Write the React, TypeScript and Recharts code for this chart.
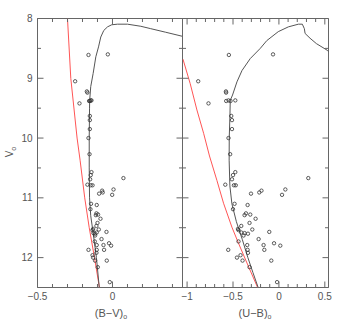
import React from 'react';
import { ComposedChart, Scatter, XAxis, YAxis } from 'recharts';

// stars: V0, (B-V)0, (U-B)0
const starV = [
  8.61, 8.6, 9.05, 9.22, 9.24, 9.42, 9.38, 9.37, 9.38, 9.37, 9.63, 9.7, 9.85, 10.0, 10.27,
  10.57, 10.62, 10.69, 10.79, 10.79, 10.78, 10.67, 10.86, 10.95, 10.93, 10.88, 10.91,
  11.1, 11.12, 11.19, 11.26, 11.28, 11.29, 11.35, 11.42, 11.47, 11.52, 11.54, 11.53,
  11.59, 11.6, 11.58, 11.57, 11.63, 11.69, 11.73, 11.76, 11.8, 11.79, 11.79, 11.87,
  11.87, 11.87, 11.92, 11.96, 12.0, 12.05, 12.05, 12.16, 12.41,
];
const starBV = [
  -0.16, -0.031, -0.249, -0.171, -0.167, -0.22, -0.156, -0.14, -0.15, -0.145, -0.151, -0.151, -0.151, -0.16, -0.153,
  -0.14, -0.145, -0.149, -0.145, -0.133, -0.167, 0.073, 0.007, -0.002, -0.089, -0.069, -0.065,
  -0.143, -0.105, -0.147, -0.107, -0.096, -0.111, -0.08, -0.1, -0.107, -0.129, -0.133, -0.091,
  -0.127, -0.116, -0.105, -0.04, -0.116, -0.073, -0.118, -0.023, -0.009, -0.06, -0.105, -0.16,
  -0.105, -0.056, -0.107, -0.133, -0.129, -0.116, -0.038, -0.098, -0.018,
];
const starUB = [
  -0.545, -0.064, -0.879, -0.577, -0.575, -0.767, -0.574, -0.549, -0.527, -0.475, -0.519, -0.511, -0.511, -0.549, -0.531,
  -0.475, -0.5, -0.511, -0.49, -0.47, -0.584, 0.32, 0.07, 0.034, -0.304, -0.19, -0.214,
  -0.483, -0.341, -0.5, -0.359, -0.312, -0.374, -0.254, -0.32, -0.41, -0.446, -0.44, -0.29,
  -0.374, -0.337, -0.41, -0.105, -0.385, -0.221, -0.44, -0.053, 0.015, -0.167, -0.345, -0.552,
  -0.341, -0.159, -0.337, -0.418, -0.457, -0.396, -0.083, -0.32, -0.02,
];

// isochrone (black)
const isoBV = [-0.088, -0.107, -0.128, -0.145, -0.153, -0.155, -0.155, -0.153, -0.152, -0.145, -0.129, -0.111, -0.093, -0.078, -0.058, -0.033, -0.005, 0.033, 0.1, 0.189, 0.255, 0.355, 0.47];
const isoBVmag = [12.5, 12.0, 11.6, 11.3, 11.0, 10.5, 10.0, 9.5, 9.37, 9.14, 8.92, 8.64, 8.475, 8.31, 8.2, 8.14, 8.105, 8.095, 8.095, 8.13, 8.17, 8.23, 8.3];
const isoUB = [-0.226, -0.283, -0.338, -0.398, -0.463, -0.512, -0.534, -0.542, -0.541, -0.533, -0.53, -0.505, -0.457, -0.402, -0.312, -0.203, -0.132, -0.007, 0.103, 0.212, 0.255, 0.277, 0.285, 0.339, 0.408, 0.525, 0.544];
const isoUBmag = [12.5, 12.25, 12.0, 11.7, 11.4, 11.1, 10.8, 10.37, 10.0, 9.6, 9.37, 9.28, 9.06, 8.87, 8.67, 8.5, 8.37, 8.22, 8.14, 8.095, 8.095, 8.17, 8.25, 8.33, 8.42, 8.53, 8.56];

// ZAMS (red)
const zamsBV = [-0.3, -0.278, -0.236, -0.216, -0.185, -0.155, -0.12, -0.087];
const zamsBVmag = [8.0, 9.0, 10.0, 10.37, 11.0, 11.5, 12.0, 12.5];
const zamsUB = [-1.045, -0.966, -0.893, -0.82, -0.756, -0.675, -0.603, -0.512, -0.44, -0.348, -0.232];
const zamsUBmag = [8.68, 9.09, 9.53, 9.92, 10.3, 10.71, 11.09, 11.49, 11.76, 12.09, 12.5];

const vTicks = [8, 8.5, 9, 9.5, 10, 10.5, 11, 11.5, 12, 12.5];
const bvTicks = [-0.5, -0.4, -0.3, -0.2, -0.1, 0, 0.1, 0.2, 0.3, 0.4];
const ubTicks = [-1, -0.9, -0.8, -0.7, -0.6, -0.5, -0.4, -0.3, -0.2, -0.1, 0, 0.1, 0.2, 0.3, 0.4, 0.5];

const pairs = (xs: number[], ys: number[]) => xs.map((x, i) => ({ x, y: ys[i] }));

const AXIS = '#666';
const TXT = '#555';
const FONT = '"Liberation Sans", Arial, sans-serif';
const W = 337;
const H = 321;
const TOP = 18.5;
const BOTTOM = 287.5;

const fmt = (v: number) => (Math.abs(v) < 1e-9 ? '0' : (v < 0 ? '\u2212' : '') + String(Math.abs(v)));
const halfMajor = (v: number) => Math.abs(v * 2 - Math.round(v * 2)) < 1e-6;
const intMajor = (v: number) => Math.abs(v - Math.round(v)) < 1e-6;

const tickLen = (major: boolean) => (major ? 6 : 3.5);

const XTick = ({ x, y, payload, dir, label }: any) => {
  const major = halfMajor(payload.value);
  const len = tickLen(major);
  return (
    <g>
      <line x1={x} x2={x} y1={y} y2={y + dir * len} stroke={AXIS} strokeWidth={1} />
      {label && major && (
        <text x={x} y={y + 12} textAnchor="middle" fontSize={10} fill={TXT} fontFamily={FONT}>
          {fmt(payload.value)}
        </text>
      )}
    </g>
  );
};

const YTick = ({ x, y, payload, dir, label }: any) => {
  const major = intMajor(payload.value);
  const len = tickLen(major);
  return (
    <g>
      <line x1={x} x2={x + dir * len} y1={y} y2={y} stroke={AXIS} strokeWidth={1} />
      {label && major && (
        <text x={x - 5} y={y + 3.5} textAnchor="end" fontSize={10} fill={TXT} fontFamily={FONT}>
          {fmt(payload.value)}
        </text>
      )}
    </g>
  );
};

const Ring = (p: any) => <circle cx={p.cx} cy={p.cy} r={1.7} fill="none" stroke="#333" strokeWidth={0.8} />;
const NoShape = () => <g />;

type PanelProps = {
  domain: [number, number];
  ticks: number[];
  left: number;
  right: number;
  stars: { x: number; y: number }[];
  iso: { x: number; y: number }[];
  zams: { x: number; y: number }[];
  yLabels: boolean;
};

// axes get a 1px band (a zero-size axis is not drawn), margins compensate
const Panel = ({ domain, ticks, left, right, stars, iso, zams, yLabels }: PanelProps) => (
  <div style={{ position: 'absolute', left: 0, top: 0 }}>
    <ComposedChart width={W} height={H} margin={{ top: TOP - 1, bottom: H - BOTTOM - 1, left: left - 1, right: W - right - 1 }}>
      <XAxis xAxisId="b" dataKey="x" type="number" domain={domain} allowDataOverflow ticks={ticks} interval={0}
        height={1} tickSize={0} tickMargin={0} tickLine={false} axisLine={{ stroke: AXIS }}
        tick={(p: any) => <XTick {...p} dir={-1} label />} />
      <XAxis xAxisId="t" orientation="top" dataKey="x" type="number" domain={domain} allowDataOverflow ticks={ticks} interval={0}
        height={1} tickSize={0} tickMargin={0} tickLine={false} axisLine={{ stroke: AXIS }}
        tick={(p: any) => <XTick {...p} dir={1} label={false} />} />
      <YAxis yAxisId="l" dataKey="y" type="number" domain={[8, 12.5]} reversed allowDataOverflow ticks={vTicks} interval={0}
        width={1} tickSize={0} tickMargin={0} tickLine={false} axisLine={{ stroke: AXIS }}
        tick={(p: any) => <YTick {...p} dir={1} label={yLabels} />} />
      <YAxis yAxisId="r" orientation="right" dataKey="y" type="number" domain={[8, 12.5]} reversed allowDataOverflow ticks={vTicks} interval={0}
        width={1} tickSize={0} tickMargin={0} tickLine={false} axisLine={{ stroke: AXIS }}
        tick={(p: any) => <YTick {...p} dir={-1} label={false} />} />
      <Scatter xAxisId="b" yAxisId="l" data={zams} line={{ stroke: '#ff5555', strokeWidth: 1 }} lineType="joint"
        shape={NoShape} isAnimationActive={false} />
      <Scatter xAxisId="b" yAxisId="l" data={iso} line={{ stroke: '#555', strokeWidth: 1 }} lineType="joint"
        shape={NoShape} isAnimationActive={false} />
      <Scatter xAxisId="b" yAxisId="l" data={stars} shape={Ring} isAnimationActive={false} />
    </ComposedChart>
  </div>
);

export default function App() {
  return (
    <div style={{ position: 'absolute', left: 0, top: 0, width: W, height: H, background: '#fff' }}>
      <Panel domain={[-0.5, 0.467]} ticks={bvTicks} left={37.5} right={182.5} yLabels
        stars={pairs(starBV, starV)} iso={pairs(isoBV, isoBVmag)} zams={pairs(zamsBV, zamsBVmag)} />
      <Panel domain={[-1.05, 0.54]} ticks={ubTicks} left={182.5} right={328.5} yLabels={false}
        stars={pairs(starUB, starV)} iso={pairs(isoUB, isoUBmag)} zams={pairs(zamsUB, zamsUBmag)} />
      <svg width={W} height={H} style={{ position: 'absolute', left: 0, top: 0, pointerEvents: 'none' }}>
        <text transform="translate(13,152) rotate(-90)" textAnchor="middle" fontSize={10} fill={TXT} fontFamily={FONT}>
          V<tspan fontSize={7} dy={3}>o</tspan>
        </text>
        <text x={111} y={317} textAnchor="middle" fontSize={11} fill={TXT} fontFamily={FONT}>
          (B{'\u2212'}V)<tspan fontSize={7} dy={2}>o</tspan>
        </text>
        <text x={255} y={317} textAnchor="middle" fontSize={11} fill={TXT} fontFamily={FONT}>
          (U{'\u2212'}B)<tspan fontSize={7} dy={2}>o</tspan>
        </text>
      </svg>
    </div>
  );
}
